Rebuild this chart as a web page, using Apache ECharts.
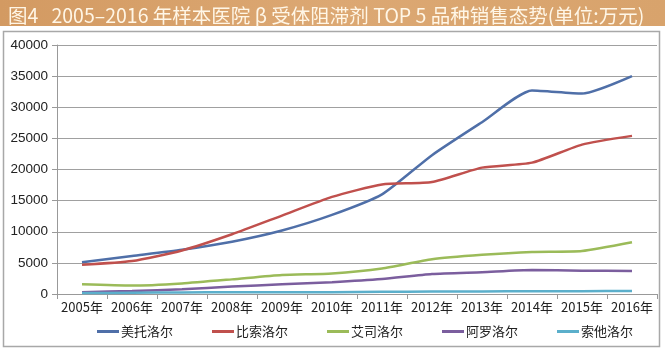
<!DOCTYPE html>
<html><head><meta charset="utf-8">
<script src="https://cdn.jsdelivr.net/npm/echarts@6/dist/echarts.min.js"></script>
<style>html,body{margin:0;padding:0;background:#fff;}#c{width:665px;height:355px;}</style>
</head><body><div id="c"></div>
<script>
const titleText = '图4   2005–2016 年样本医院 β 受体阻滞剂 TOP 5 品种销售态势(单位:万元)';
const categories = ['2005年','2006年','2007年','2008年','2009年','2010年','2011年','2012年','2013年','2014年','2015年','2016年'];
const seriesNames = ['美托洛尔','比索洛尔','艾司洛尔','阿罗洛尔','索他洛尔'];
const metoprolol = [5100, 6100, 7100, 8400, 10200, 12700, 16000, 22300, 27600, 32700, 32200, 35000];
const bisoprolol = [4700, 5300, 7000, 9600, 12600, 15600, 17600, 18000, 20300, 21100, 24000, 25400];
const esmolol    = [1550, 1350, 1700, 2350, 3050, 3300, 4100, 5600, 6300, 6750, 6900, 8300];
const arotinolol = [300, 500, 750, 1200, 1550, 1900, 2400, 3200, 3500, 3850, 3750, 3700];
const sotalol    = [150, 200, 250, 300, 300, 300, 350, 400, 400, 450, 450, 500];
const yTicks = {min: 0, max: 40000, interval: 5000};
const colors = ['#4F6FA8','#C0504D','#9BBB59','#7B5E9E','#5BAFCB'];

const chart = echarts.init(document.getElementById('c'), null, {renderer:'canvas'});
const data = [metoprolol, bisoprolol, esmolol, arotinolol, sotalol];
chart.setOption({
  animation: false,
  color: colors,
  graphic: [
    {type:'rect', shape:{x:0,y:0,width:665,height:26}, z:-1,
     style:{fill:new echarts.graphic.LinearGradient(0,0,1,0,[{offset:0,color:'#D39A62'},{offset:0.5,color:'#DCA873'},{offset:1,color:'#D8A36C'}])}},
    {type:'rect', shape:{x:3.5,y:31.5,width:656,height:315}, z:-1,
     style:{fill:'#fff', stroke:'#A8A8A8', lineWidth:1.5}}
  ],
  title: {text: titleText, left: 3, top: 1,
    textStyle:{color:'#FFF6E6', fontSize:19.5, fontWeight:'normal', fontFamily:'Noto Sans CJK SC'}},
  grid: {left:57, right:8, top:45, bottom:61},
  legend: {left: 92, top: 320, width: 600, itemWidth: 22, itemHeight: 3, itemGap: 39, icon:'rect',
    textStyle:{fontSize:13, color:'#222', fontFamily:'Noto Sans CJK SC', padding:[0,0,0,-3]},
    data: seriesNames},
  xAxis: {type:'category', data: categories, boundaryGap:true,
    axisLine:{lineStyle:{color:'#999', width:1}},
    axisTick:{show:true, length:5, lineStyle:{color:'#999'}},
    axisLabel:{color:'#222', fontSize:13, fontFamily:'Noto Sans CJK SC', margin:7, interval:0}},
  yAxis: {type:'value', min:yTicks.min, max:yTicks.max, interval:yTicks.interval,
    axisLine:{show:true, lineStyle:{color:'#999'}},
    axisTick:{show:true, length:5, lineStyle:{color:'#999'}},
    splitLine:{lineStyle:{color:'#A0A0A0', width:1}},
    axisLabel:{color:'#222', fontSize:13.5, fontFamily:'Liberation Sans', margin:9, formatter: v => String(v)}},
  series: seriesNames.map((n,i)=>({
    name:n, type:'line', data:data[i], symbol:'none', smooth:0.2,
    lineStyle:{width:2.5, color:colors[i]}
  }))
});
</script></body></html>
